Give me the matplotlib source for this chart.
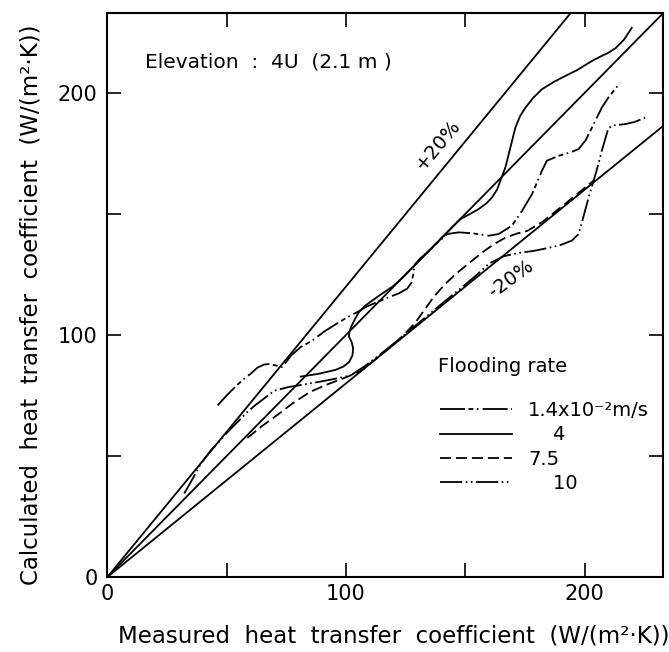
import numpy as np
import matplotlib
matplotlib.use("Agg")
from matplotlib import pyplot as plt
from matplotlib.ticker import FixedLocator, NullFormatter

# readings, W/(m2 K)
lim = 233
ratios = [1.2, 1.0, 0.8]

flood_14_x = [46.2, 50, 54, 58, 60.1, 62.9, 65.7, 68, 70.6, 73.4, 77, 81, 85.9, 91, 95, 100, 105.4, 108.2,
              113.8, 118, 122.2, 125.6, 127.4, 128.2, 128.7, 131, 135, 139, 142.4, 147.3, 153, 159.8, 164,
              169.6, 173.8, 178, 182.1, 184.2, 189.1, 194, 197.5, 200.5, 203.1, 207.2, 210, 214.9]
flood_14_y = [70.9, 75, 79, 82.5, 84, 86.5, 87.8, 88, 87.4, 86.8, 91.5, 95, 97.7, 101.5, 104, 107, 109.8, 111.5,
              113.9, 115.6, 117.2, 119.1, 121.5, 125, 129, 131.5, 135, 138.7, 141.7, 142.4, 142, 141, 141.7,
              145.2, 151.3, 158.2, 167.8, 172, 174, 175.4, 176.8, 180.5, 185.7, 193.9, 198.1, 204.2]

flood_4_x = [81, 85, 88.7, 95.7, 99, 101.3, 102.7, 103, 102.4, 101.2, 101.5, 102.2, 104, 105.4, 108.2, 111, 115,
             119.4, 123, 126.4, 130, 135, 140, 145, 148, 152, 155.6, 159, 161.2, 163.3, 164.7, 166.8, 168.9,
             171, 173, 175.2, 178.5, 182.1, 187, 191.9, 197, 203.1, 207, 210, 213, 216.5, 219.8]
flood_4_y = [82.8, 83.4, 84, 85.6, 87, 88.8, 91.5, 94.5, 97, 99.4, 101.5, 103.5, 107, 109.4, 112.2, 114.2, 117,
             119.9, 123, 126.4, 130, 135, 140, 145, 147.9, 150, 152, 154.5, 156.8, 160, 163.7, 169.2, 177.4,
             185.7, 190.5, 193.9, 198, 201.5, 204.5, 207, 209.5, 213.2, 215.2, 216.6, 218.5, 222, 226.9]

flood_75_x = [58.7, 65, 71.3, 78, 85, 92, 100, 106, 112, 118, 124, 129, 133, 137, 142, 147, 152, 157, 162,
              167, 172, 176, 182, 190, 197, 204]
flood_75_y = [57.5, 62.5, 67, 72, 76.5, 79.5, 82.5, 85, 89.6, 94.5, 99.8, 105, 110.5, 116, 121.5, 126, 130,
              134, 137.5, 140.3, 142, 143, 146.5, 152.7, 158.3, 164]

flood_10_x = [32.2, 35, 39, 43.4, 47, 50, 53, 56, 59, 62, 66, 70, 76, 81, 88, 95, 102, 108, 115, 122, 130,
              136, 142, 149, 155, 160, 166, 172, 179, 185, 190, 194.7, 197.5, 199, 201.7, 205, 207.2, 210,
              212, 217, 221, 225.4]
flood_10_y = [34.5, 39.3, 46.5, 52.4, 56, 59.5, 62.5, 65.5, 68.5, 71, 74, 77, 78.5, 79.3, 80.5, 81.8, 83.3,
              87.2, 92.5, 98, 104.6, 109.5, 114.4, 120, 125, 129.5, 132.5, 133.8, 134.8, 136, 137.2, 139,
              141.7, 147, 156.8, 167.8, 176, 185.5, 186.6, 187.1, 188, 189.8]

labels = ["1.4x10\u207b\u00b2m/s", "    4", "7.5", "    10"]

plt.rcParams['font.family'] = ['DejaVu Sans']
plt.rcParams['lines.scale_dashes'] = False

fig = plt.figure(figsize=(6.69, 6.52), dpi=100)
ax = fig.add_axes([0.1605, 0.115, 0.831, 0.865])

xs = np.array([0, lim])
for r in ratios:
	ax.plot(xs, r * xs, color='black', lw=1.3)

lw = 1.3
l1, = ax.plot(flood_14_x, flood_14_y, color='black', lw=lw, dashes=(18, 2.5, 3.5, 2.5, 1.2, 3), label=labels[0])
l2, = ax.plot(flood_4_x, flood_4_y, color='black', lw=lw, label=labels[1])
l3, = ax.plot(flood_75_x, flood_75_y, color='black', lw=lw, dashes=(8, 3.5), label=labels[2])
l4, = ax.plot(flood_10_x, flood_10_y, color='black', lw=lw, dashes=(16, 2.5, 1.2, 2.5, 1.2, 2.5), label=labels[3])

ax.set_xlim(0, lim)
ax.set_ylim(0, lim)

for axis in (ax.xaxis, ax.yaxis):
	axis.set_major_locator(FixedLocator([0, 100, 200]))
	axis.set_minor_locator(FixedLocator([50, 150]))
	axis.set_minor_formatter(NullFormatter())
ax.tick_params(which='both', direction='in', top=True, right=True, length=10, width=1.2, labelsize=15)
ax.tick_params(axis='x', pad=5)
ax.tick_params(axis='y', pad=7)
for s in ax.spines.values():
	s.set_linewidth(1.5)

ax.set_xlabel("Measured  heat  transfer  coefficient  (W/(m\u00b2\u00b7K))", fontsize=16.5)
ax.set_ylabel("Calculated  heat  transfer  coefficient  (W/(m\u00b2\u00b7K))", fontsize=16.5)
ax.xaxis.set_label_coords(0.515, -0.085)
ax.yaxis.set_label_coords(-0.116, 0.482)

ax.text(15.8, 212.9, "Elevation  :  4U  (2.1 m )", fontsize=14.5, ha='left', va='center')
ax.text(138.6, 178.5, "+20%", fontsize=14, rotation=50, ha='center', va='center')
ax.text(169.4, 123.1, "-20%", fontsize=14, rotation=36, ha='center', va='center')

ax.text(0.5946, 0.373, "Flooding rate", transform=ax.transAxes, fontsize=14, ha='left', va='center')
ax.legend(handles=[l1, l2, l3, l4], loc='upper left', bbox_to_anchor=(0.598, 0.312), frameon=False,
          fontsize=14, handlelength=3.7, handletextpad=0.85, labelspacing=0.27, borderpad=0, borderaxespad=0)

fig.savefig("out.png", dpi=100)
